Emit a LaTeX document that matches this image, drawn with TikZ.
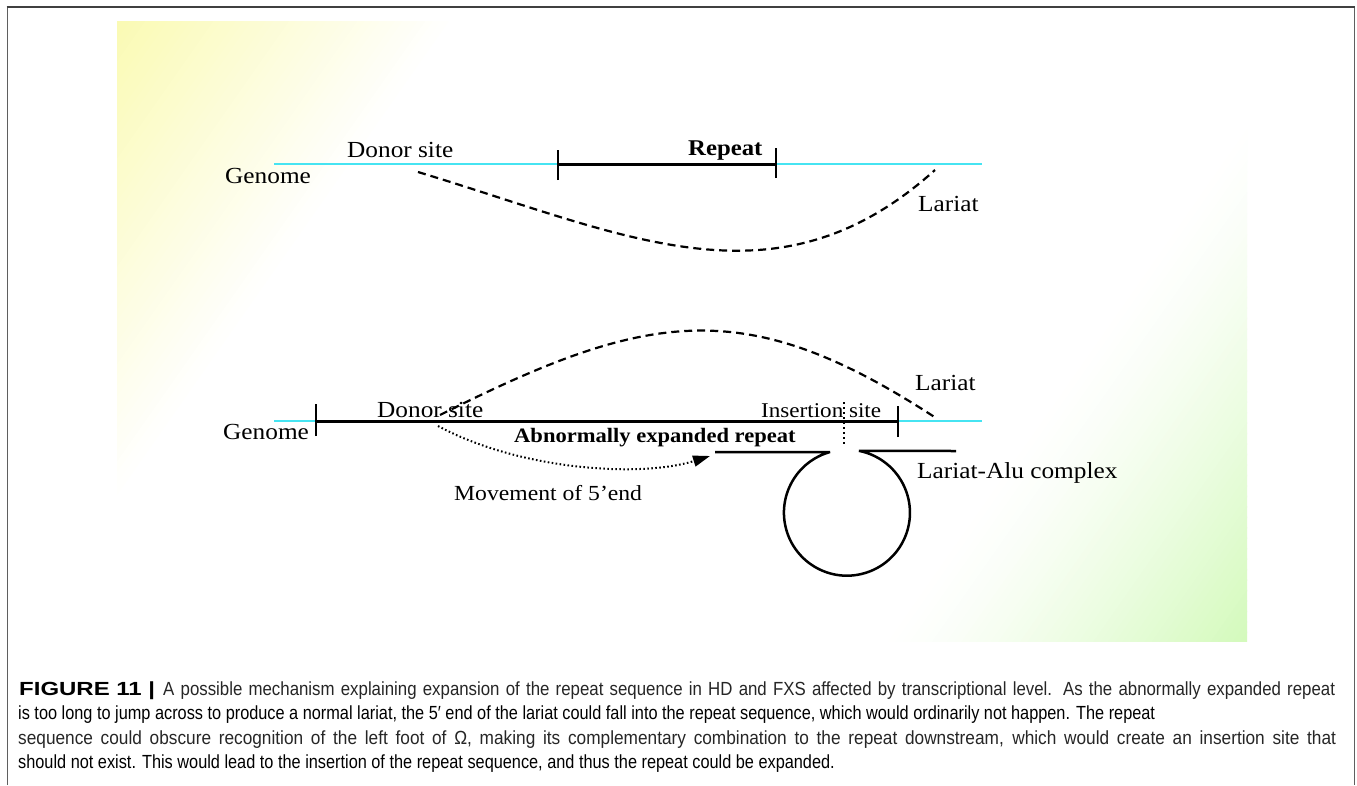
\documentclass[tikz,border=0pt]{standalone}
\usepackage{fontspec}
\setmainfont{Liberation Serif}
\newfontfamily\lblfont[FakeStretch=1.1]{Liberation Serif}
\newfontfamily\capfont{Liberation Sans}
\usetikzlibrary{arrows.meta}

\definecolor{ylw}{RGB}{250,250,178}
\definecolor{grn}{RGB}{212,250,188}
\definecolor{dna}{RGB}{70,228,242}
\definecolor{framegray}{RGB}{95,95,95}

\tikzset{
  lbl/.style={font=\lblfont\fontsize{23}{27}\selectfont, inner sep=0pt, anchor=base west},
  lblb/.style={lbl, font=\lblfont\bfseries\fontsize{#1}{27}\selectfont},
  lbls/.style={lbl, font=\lblfont\fontsize{#1}{27}\selectfont},
  strand/.style={line width=3pt},
  tickmark/.style={line width=2.5pt},
  genome/.style={draw=dna, line width=1.6pt},
  lariat/.style={line width=2.2pt, dash pattern=on 8pt off 5pt},
  motion/.style={line width=2pt, dash pattern=on 1.6pt off 2.4pt},
  capline/.style={inner sep=0pt, anchor=base west, text=black!85},
}

% caption: common horizontal scale; full lines share the extra width
% between letter scaling and word spacing
\newcommand\capset{\capfont\fontsize{19}{24}\selectfont}
\newcommand\capTxtB{A possible mechanism explaining expansion of the repeat sequence in HD and FXS affected by transcriptional level. As the abnormally expanded repeat}
\newcommand\capTxtD{sequence could obscure recognition of the left foot of Ω, making its complementary combination to the repeat downstream, which would create an insertion site that}
\newsavebox\capA
\newsavebox\capB
\newsavebox\capC
\newsavebox\capD
\newsavebox\capE

\begin{document}
\sbox\capA{\capset\textbf{FIGURE 11 |}}%
\sbox\capB{\capset\capTxtB}%
\sbox\capC{\capset is too long to jump across to produce a normal lariat, the 5′ end of the lariat could fall into the repeat sequence, which would ordinarily not happen. The repeat}%
\sbox\capD{\capset\capTxtD}%
\sbox\capE{\capset should not exist. This would lead to the insertion of the repeat sequence, and thus the repeat could be expanded.}%
\pgfmathsetmacro\capsc{1137/\the\wd\capC}%
\pgfmathsetmacro\boldsc{136/\the\wd\capA}%
\pgfmathsetmacro\sB{\capsc*sqrt(1172/(\capsc*\the\wd\capB))}%
\pgfmathsetmacro\wB{1172/\sB}%
\pgfmathsetmacro\sD{\capsc*sqrt(1318/(\capsc*\the\wd\capD))}%
\pgfmathsetmacro\wD{1318/\sD}%
\begin{tikzpicture}[x=1pt, y=-1pt]
\useasboundingbox (0,0) rectangle (1357,785);
\fill[white] (0,0) rectangle (1357,785);

% page frame
\draw[framegray, line width=1.6pt] (7.5,785) -- (7.5,6.5);
\draw[framegray, line width=1.6pt] (1354.5,785) -- (1354.5,6.5);
\draw[black!75, line width=2pt] (6.7,6.5) -- (1355.3,6.5);

% background panel: yellow corner fading to white, green corner
\begin{scope}
  \clip (117,21) rectangle (1247,641);
  \begin{scope}[rotate=-35]
    \foreach \i in {0,...,44} {
      \pgfmathsetmacro\sa{100+\i*6.2}
      \pgfmathsetmacro\pc{100*(1-\i/45)}
      \fill[ylw!\pc!white] (\sa,-1700) rectangle (\sa+6.8,1700);
    }
    \foreach \i in {0,...,49} {
      \pgfmathsetmacro\sa{1090+\i*6}
      \pgfmathsetmacro\pc{100*(\i/49)^1.3}
      \fill[grn!\pc!white] (\sa,-1700) rectangle (\sa+6.6,1700);
    }
  \end{scope}
\end{scope}

% ---------- normal splicing ----------
\coordinate (gA) at (274,164);
\coordinate (gB) at (982,164);
\coordinate (rA) at (558,164);
\coordinate (rB) at (776,164);
\coordinate (dA) at (418,172);
\coordinate (dB) at (935,170);

\draw[genome] (gA) -- (gB);
\draw[strand] (rA) -- (rB);
\draw[tickmark] ([yshift=-16pt]rA) -- ([yshift=14pt]rA);
\draw[tickmark] ([yshift=-14pt]rB) -- ([yshift=16pt]rB);
\draw[lariat] (dA) .. controls (627,235) and (776,313) .. (dB);

\node[lbl] (genome1) at (225,183) {Genome};
\node[lbl] (donor1) at (347,157) {Donor site};
\node[lblb=22.5] (repeat1) at (688,155) {Repeat};
\node[lbl] (lariat1) at (918,211) {Lariat};

% ---------- expanded repeat ----------
\coordinate (hA) at (274,421);
\coordinate (hB) at (982,421);
\coordinate (eA) at (316,421);
\coordinate (eB) at (898,421);
\coordinate (lA) at (440,415);
\coordinate (lB) at (936,418);
\coordinate (mA) at (438,426);
\coordinate (mB) at (710,456);
\coordinate (iA) at (844,402);
\coordinate (iB) at (844,445);

\draw[genome] (hA) -- (hB);
\draw[strand] (eA) -- (eB);
\draw[tickmark] ([yshift=-15pt]eA) -- ([yshift=17pt]eA);
\draw[tickmark] ([yshift=-16pt]eB) -- ([yshift=15pt]eB);
\draw[lariat] (lA) .. controls (649,310) and (746,294) .. (lB);
\draw[motion, -{Triangle[length=17pt,width=11pt]}] (mA) .. controls (520,470) and (640,478) .. (mB);
\draw[line width=1.8pt, dash pattern=on 2pt off 3pt] (iA) -- (iB);

% lariat-Alu complex (omega loop)
\coordinate (oA) at (715,452);
\coordinate (oB) at (830,452);
\coordinate (oC) at (956,451);
\draw[line width=2.5pt, miter limit=6]
  (oA) -- (oB) arc[start angle=254.4, end angle=-79, radius=63] -- (oC);

\node[lbl] (genome2) at (223,439) {Genome};
\node[lbl] (donor2) at (377,417) {Donor site};
\node[lbls=21] (insert) at (761,417) {Insertion site};
\node[lbl] (lariat2) at (915,390) {Lariat};
\node[lblb=20.5] (expanded) at (514,442) {Abnormally expanded repeat};
\node[lbls=21.5] (movement) at (454,500) {Movement of 5’end};
\node[lbl] (complex) at (917,478) {Lariat-Alu complex};

% ---------- caption ----------
\node[capline] (cap0) at (19,695.5) {\scalebox{\boldsc}[1]{\usebox\capA}};
\node[capline] (cap1) at (163,695.5) {\scalebox{\sB}[1]{\makebox[\wB pt][s]{\capset\capTxtB}}};
\node[capline] (cap2) at (18,719.9) {\scalebox{\capsc}[1]{\usebox\capC}};
\node[capline] (cap3) at (18,744.3) {\scalebox{\sD}[1]{\makebox[\wD pt][s]{\capset\capTxtD}}};
\node[capline] (cap4) at (18,768.7) {\scalebox{\capsc}[1]{\usebox\capE}};
\end{tikzpicture}
\end{document}
